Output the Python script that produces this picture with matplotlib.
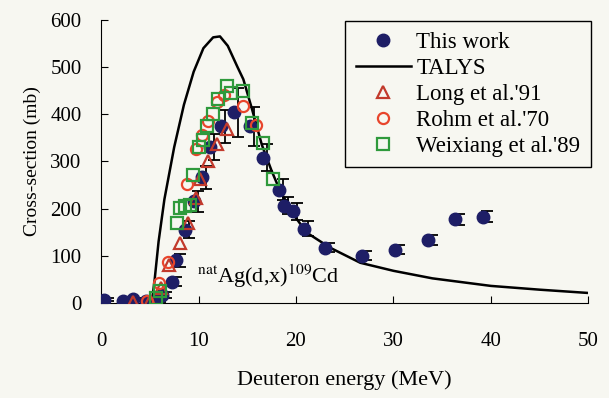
import matplotlib.pyplot as plt
import matplotlib.transforms as mtransforms

plt.rcParams['font.family'] = 'Liberation Serif'
plt.rcParams['mathtext.fontset'] = 'stix'

# This work
work_e = [0.3, 2.2, 3.3, 4.6, 5.6, 6.3, 7.3, 7.7, 8.6, 9.5, 10.4, 11.2, 12.3, 13.6,
          15.3, 16.6, 18.3, 18.8, 19.7, 20.8, 23.0, 26.8, 30.2, 33.5, 36.3, 39.2]
work_s = [7, 5, 8, 3, 5, 17, 45, 90, 155, 215, 266, 330, 375, 404,
          374, 308, 240, 206, 194, 157, 117, 100, 113, 133, 177, 183]
work_err = [3, 3, 3, 3, 4, 6, 10, 14, 18, 22, 25, 28, 35, 52,
            42, 28, 22, 18, 18, 16, 10, 10, 10, 10, 12, 12]

# TALYS
talys_e = [5.2, 5.5, 5.9, 6.5, 7.5, 8.5, 9.5, 10.5, 11.5, 12.2, 13.0, 14.0, 14.6, 15.5,
           16.5, 17.5, 18.4, 20.0, 21.1, 23.5, 26.6, 30.0, 34.0, 40.0, 45.0, 50.0]
talys_s = [0, 50, 130, 220, 330, 420, 490, 540, 563, 565, 545, 500, 474, 410,
           335, 280, 236, 180, 149, 117, 85, 68, 52, 36, 28, 21]

# Long et al.'91
long_e = [3.3, 5.0, 6.1, 7.0, 8.1, 8.9, 9.7, 10.2, 11.0, 11.9, 12.9]
long_s = [2, 3, 32, 80, 128, 170, 223, 262, 300, 336, 368]

# Rohm et al.'70
rohm_e = [4.7, 5.9, 6.9, 8.8, 9.7, 10.4, 11.0, 11.9, 12.6, 14.6, 15.9]
rohm_s = [5, 43, 87, 251, 326, 355, 385, 425, 440, 417, 377]

# Weixiang et al.'89
wei_e = [5.6, 6.0, 7.8, 8.1, 8.6, 9.1, 9.4, 10.0, 10.5, 10.9, 11.5, 12.0, 12.9, 13.3,
         14.6, 15.5, 16.6, 17.6]
wei_s = [10, 25, 170, 202, 205, 208, 272, 330, 345, 374, 400, 432, 460, 445,
         449, 381, 338, 262]

bg = '#f7f7f1'
fig = plt.figure(figsize=(6.09, 3.98), dpi=100, facecolor=bg)
ax = fig.add_axes([0.166, 0.239, 0.8, 0.711], facecolor=bg)

ax.plot(talys_e, talys_s, color='black', lw=1.8, label='TALYS', zorder=2)

shift = mtransforms.offset_copy(ax.transData, fig=fig, x=4, y=0, units='dots')
ax.errorbar(work_e, work_s, yerr=work_err, fmt='none', ecolor='black',
            elinewidth=1.3, capsize=4, capthick=1.3, transform=shift, zorder=3)
ax.plot(work_e, work_s, 'o', color='#1e1e66', ms=9, ls='none',
        label='This work', zorder=4)

ax.plot(long_e, long_s, '^', mfc='none', mec='#c23a2c', mew=1.6, ms=8,
        ls='none', label="Long et al.'91", zorder=5)
ax.plot(rohm_e, rohm_s, 'o', mfc='none', mec='#e8452c', mew=1.6, ms=8,
        ls='none', label="Rohm et al.'70", zorder=5)
ax.plot(wei_e, wei_s, 's', mfc='none', mec='#2f9a3c', mew=1.6, ms=8,
        ls='none', label="Weixiang et al.'89", zorder=6)

ax.set_xlim(0, 50)
ax.set_ylim(0, 600)
ax.set_xticks(range(0, 51, 10))
ax.set_yticks(range(0, 601, 100))
ax.spines['top'].set_visible(False)
ax.spines['right'].set_visible(False)
ax.tick_params(direction='in', length=5, labelsize=15)
ax.tick_params(axis='y', pad=14)
ax.tick_params(axis='x', pad=21)

ax.set_xlabel('Deuteron energy (MeV)', fontsize=16, labelpad=14)
ax.set_ylabel('Cross-section (mb)', fontsize=14, labelpad=7)

ax.text(9.8, 43, r'$^{\mathrm{nat}}$Ag(d,x)$^{109}$Cd', fontsize=16)

handles, labels = ax.get_legend_handles_labels()
order = [1, 0, 2, 3, 4]
leg = ax.legend([handles[i] for i in order], [labels[i] for i in order],
                loc='upper right', bbox_to_anchor=(1.005, 0.995), borderaxespad=0,
                fontsize=16.5, frameon=True, fancybox=False, edgecolor='black',
                facecolor=bg, framealpha=1, handlelength=2.4, handletextpad=0.25,
                labelspacing=0.22, borderpad=0.45)
leg.get_frame().set_linewidth(1.0)

fig.savefig('out.png', dpi=100, facecolor=bg)
